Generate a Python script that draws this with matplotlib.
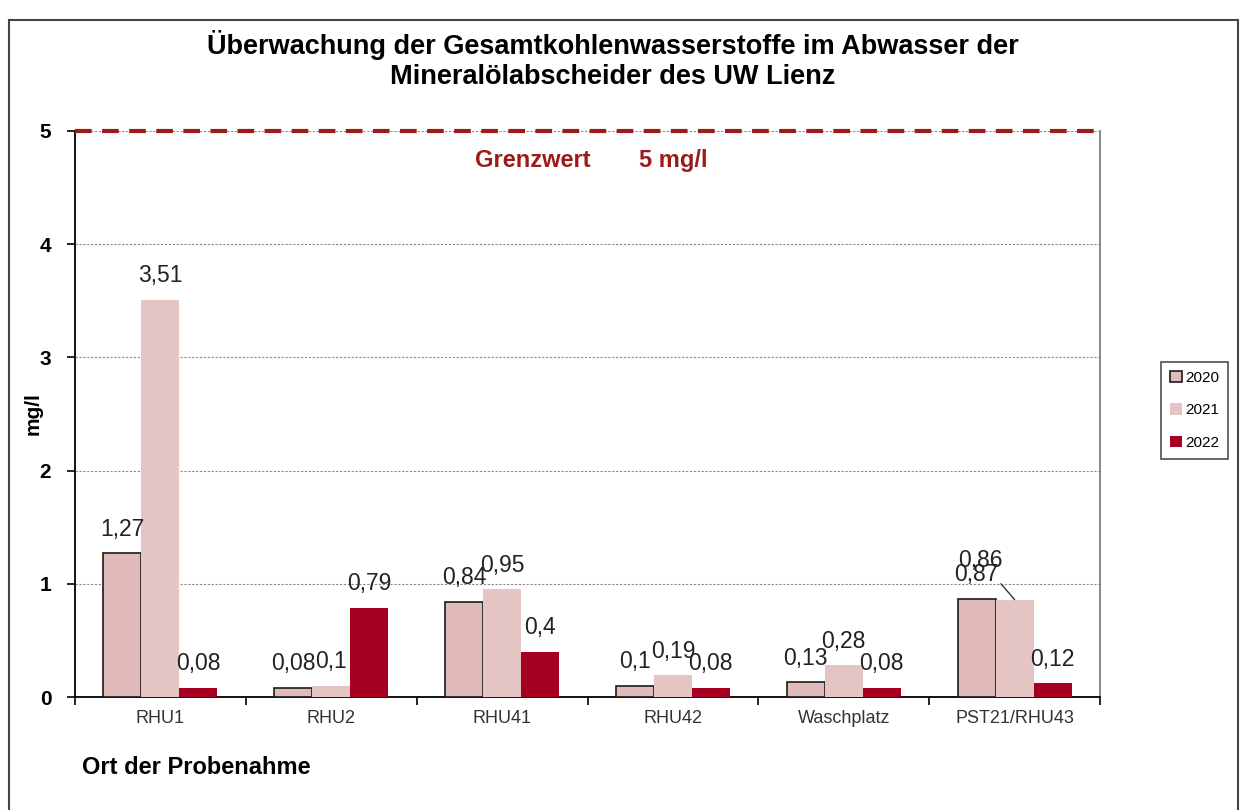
import numpy as np
import matplotlib.pyplot as plt
from matplotlib.patches import Rectangle

plt.rcParams['font.family'] = ['Liberation Sans', 'DejaVu Sans']

orte = ['RHU1', 'RHU2', 'RHU41', 'RHU42', 'Waschplatz', 'PST21/RHU43']
jahre = ['2020', '2021', '2022']
w2020 = [1.27, 0.08, 0.84, 0.10, 0.13, 0.87]
w2021 = [3.51, 0.10, 0.95, 0.19, 0.28, 0.86]
w2022 = [0.08, 0.79, 0.40, 0.08, 0.08, 0.12]
grenzwert = 5

farben = ['#E0B9B9', '#E5C4C4', '#A50021']
kanten = ['#1a1a1a', 'none', 'none']

fig = plt.figure(figsize=(12.43, 8.1), dpi=100)
ax = fig.add_axes([0.0603, 0.1395, 0.8247, 0.6988])

x = np.arange(len(orte))
bw = 0.222
for i, (werte, farbe, kante) in enumerate(zip([w2020, w2021, w2022], farben, kanten)):
    pos = x + (i - 1) * bw
    ax.bar(pos, werte, bw, color=farbe, edgecolor=kante, linewidth=1.2 if kante != 'none' else 0,
           label=jahre[i], zorder=3)
    for j, (p, v) in enumerate(zip(pos, werte)):
        txt = ('%g' % v).replace('.', ',')
        if i == 1 and j == 5:
            # label verschoben, mit Fuehrungslinie
            ax.annotate(txt, xy=(p, v), xytext=(p - 0.2, v + 0.35), ha='center', va='center',
                        fontsize=16.5, color='#222222', zorder=4,
                        arrowprops=dict(arrowstyle='-', color='#333333', lw=1,
                                        shrinkA=9, shrinkB=0))
            continue
        ax.annotate(txt, xy=(p, v), xytext=(0, 9), textcoords='offset points',
                    ha='center', va='bottom', fontsize=16.5, color='#222222', zorder=4)

ax.axhline(grenzwert, color='#9B1B1B', lw=3, ls=(0, (4, 2.5)), zorder=5, clip_on=False)
ax.text(2.18, 4.74, 'Grenzwert', color='#9B1B1B', fontsize=17, fontweight='bold', ha='center', va='center')
ax.text(3.0, 4.74, '5 mg/l', color='#9B1B1B', fontsize=17, fontweight='bold', ha='center', va='center')

ax.set_xlim(-0.5, len(orte) - 0.5)
ax.set_ylim(0, 5)
ax.set_yticks(range(0, 6))
ax.set_yticklabels([str(t) for t in range(0, 6)], fontsize=15, fontweight='bold')
ax.yaxis.grid(True, color='#888888', ls=(0, (2, 1.5)), lw=0.8, zorder=0)
ax.set_xticks(x)
ax.set_xticklabels(orte, fontsize=13, color='#333333')
ax.set_xticks(np.arange(-0.5, len(orte)), minor=True)
ax.tick_params(axis='x', which='major', length=0, pad=9)
ax.tick_params(axis='x', which='minor', length=6, width=1.2, direction='out')
ax.tick_params(axis='y', length=6, width=1.2, direction='out', pad=11)
for s in ['left', 'bottom']:
    ax.spines[s].set_linewidth(1.3)
ax.spines['top'].set_visible(False)
ax.spines['right'].set_color('#808080')
ax.spines['right'].set_linewidth(1.3)

ax.set_ylabel('mg/l', fontsize=15, fontweight='bold')
ax.yaxis.set_label_coords(-0.032, 0.5)

fig.text(0.493, 0.945, 'Überwachung der Gesamtkohlenwasserstoffe im Abwasser der',
         ha='center', va='center', fontsize=19.5, fontweight='bold')
fig.text(0.493, 0.905, 'Mineralölabscheider des UW Lienz',
         ha='center', va='center', fontsize=19.5, fontweight='bold')
fig.text(0.066, 0.052, 'Ort der Probenahme', ha='left', va='center', fontsize=17, fontweight='bold')

leg = fig.legend(loc='center left', bbox_to_anchor=(0.9275, 0.4935), fontsize=11,
                 frameon=True, fancybox=False, edgecolor='#222222', handlelength=0.8,
                 handleheight=0.8, handletextpad=0.2, labelspacing=1.2, borderpad=0.6)
leg.get_frame().set_linewidth(1.2)

fig.add_artist(Rectangle((0.007, -0.01), 0.989, 0.985, transform=fig.transFigure,
                         fill=False, edgecolor='#444444', lw=1.5))

fig.savefig('out.png', dpi=100)
